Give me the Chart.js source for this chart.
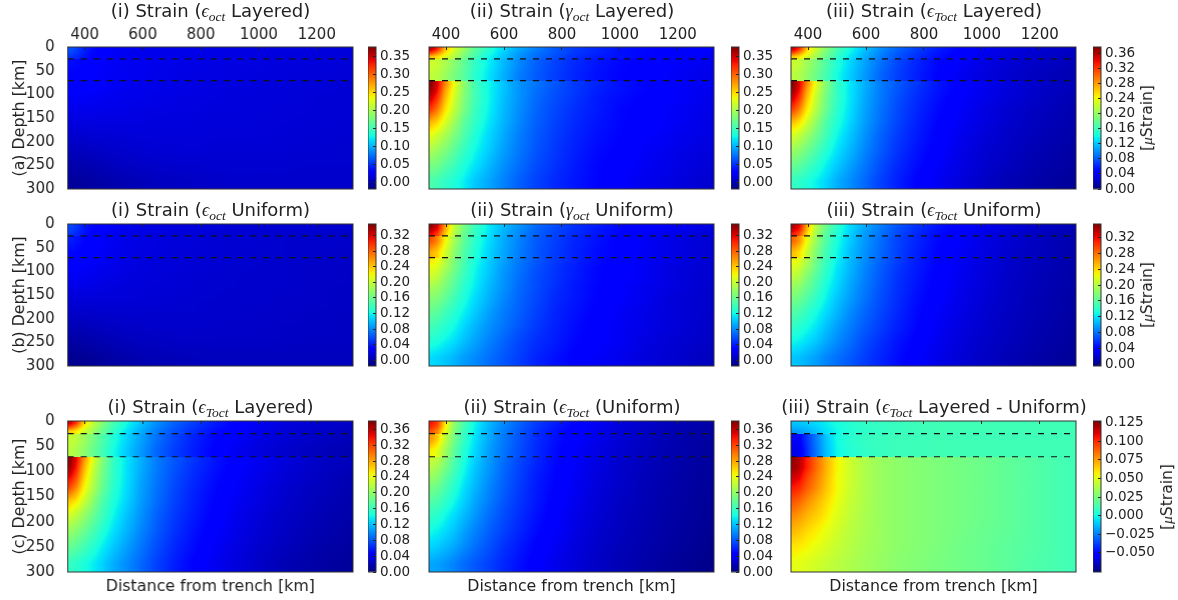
<!DOCTYPE html>
<html>
<head>
<meta charset="utf-8">
<script src="https://cdn.jsdelivr.net/npm/chart.js@4"></script>
<style>
  body { margin: 0; background: #fff; width: 1178px; height: 600px; overflow: hidden; position: relative; }
  canvas { position: absolute; }
  .ttl { position: absolute; transform: translate(-50%, -50%); white-space: nowrap; font: 18px "DejaVu Sans"; color: #222; }
  .ttl i { font-family: "Liberation Serif", "DejaVu Serif"; }
  .ttl sub { font: italic 13.5px "Liberation Serif", "DejaVu Serif"; vertical-align: -4px; line-height: 0; }
  .unit { position: absolute; transform: translate(-50%, -50%) rotate(-90deg); white-space: nowrap; font: 15.5px "DejaVu Sans"; color: #222; }
  .unit i { font-family: "Liberation Serif", "DejaVu Serif"; }
</style>
</head>
<body>
<script>
// distance (km) of each column centre and depth (km) edges of each row
const distances = [350,370,395,425,460,500,545,595,650,710,775,845,920,1000,1085,1170,1250,1315];
const depthEdges = [0,8,16,25,48,71,85,100,120,145,170,200,230,265,300];
const layerDepths = [25,71];
const distanceTicks = [400,600,800,1000,1200];
const depthTicks = [0,50,100,150,200,250,300];

// strain values in units of 0.001 microstrain, rows top to bottom
const octLayered = [
[62,56,44,34,27,23,20,19,18,18,17,16,15,15,14,14,13,13],
[58,52,42,33,27,23,20,19,18,18,17,16,15,14,14,13,13,12],
[50,46,38,31,26,22,20,19,18,17,16,15,15,14,13,13,12,12],
[34,33,30,27,24,22,20,19,18,17,16,15,14,14,13,13,12,11],
[30,29,27,25,23,21,20,19,17,16,15,15,14,13,13,12,11,11],
[28,28,27,26,24,22,20,18,17,16,15,14,14,13,12,12,11,10],
[26,26,25,24,23,21,19,18,17,16,15,14,13,13,12,11,11,10],
[22,22,22,21,20,19,18,17,16,15,14,14,13,12,12,11,10,10],
[18,18,18,18,17,17,16,15,15,14,14,13,13,12,11,11,10,10],
[14,14,14,14,14,14,14,14,13,13,13,12,12,11,11,10,10,9],
[9,9,9,10,10,11,11,12,12,12,12,11,11,11,10,10,9,9],
[3,3,4,5,6,7,8,9,10,10,11,10,10,10,10,9,9,8],
[-3,-3,-2,-1,1,3,5,6,7,8,8,9,9,9,9,8,8,8],
[-9,-9,-8,-7,-5,-3,-1,1,3,4,5,6,7,7,7,7,7,7]];
const gammaLayered = [
[357,329,266,227,195,163,139,116,96,80,64,52,44,36,32,29,27,25],
[318,290,250,219,187,159,135,112,92,76,64,52,44,36,32,29,25,23],
[258,250,227,207,179,151,128,108,88,72,60,48,40,36,31,27,23,21],
[219,215,203,187,167,143,124,104,84,68,56,46,38,32,29,25,21,19],
[211,207,195,179,163,139,120,100,80,66,54,44,36,31,27,23,19,17],
[373,345,290,238,191,151,128,108,88,76,64,52,44,36,31,27,23,21],
[365,337,278,230,187,151,128,108,88,74,62,52,42,36,31,25,21,19],
[345,318,266,223,183,151,128,106,88,72,60,50,40,34,29,25,21,17],
[314,290,250,215,179,147,126,104,86,70,58,48,40,32,27,23,19,17],
[266,254,227,199,167,143,122,102,84,68,56,46,38,32,27,23,19,15],
[230,219,203,183,159,135,116,98,80,66,54,44,36,31,25,21,17,15],
[203,195,183,167,147,128,112,94,78,64,52,42,34,29,23,19,15,13],
[179,175,163,151,135,120,104,88,74,60,50,40,32,27,21,17,13,11],
[155,151,143,135,124,108,96,82,68,56,46,38,31,25,19,15,11,9]];
const totalLayered = [
[355,328,265,226,195,165,142,120,100,84,70,57,47,38,32,28,25,23],
[318,290,250,219,188,160,138,116,97,80,67,55,46,37,31,27,24,22],
[262,252,230,208,182,155,132,112,93,77,64,52,43,36,30,26,23,21],
[225,220,207,190,170,147,127,108,89,73,60,49,41,33,28,24,21,19],
[218,212,200,183,165,142,123,104,85,70,58,47,38,31,26,22,19,17],
[375,347,292,240,195,157,133,113,93,80,67,55,45,37,31,26,22,20],
[367,338,280,232,190,155,132,112,93,78,65,54,44,36,30,25,21,19],
[347,320,268,225,186,155,132,110,92,76,63,52,42,35,29,24,20,17],
[316,292,252,217,182,151,130,108,90,74,61,50,41,33,27,22,19,16],
[268,256,230,202,170,147,127,106,88,72,59,48,39,32,26,21,18,15],
[232,222,206,186,163,140,121,102,84,69,57,46,37,30,24,20,16,14],
[205,198,186,170,151,132,116,98,81,66,54,44,35,28,23,18,15,12],
[181,177,166,154,138,123,108,92,76,62,51,41,33,26,21,16,13,11],
[157,153,146,138,127,112,100,86,71,58,47,38,31,24,18,14,11,9]];
const octUniform = [
[56,50,40,32,26,22,19,17,16,15,14,13,12,12,11,11,10,10],
[54,48,39,31,26,22,19,17,16,15,14,13,12,11,11,10,10,9],
[50,45,37,30,25,21,19,17,16,14,13,12,12,11,10,10,9,9],
[40,37,32,28,24,21,18,17,15,14,13,12,11,11,10,9,9,8],
[32,31,28,26,23,20,18,16,15,13,12,12,11,10,10,9,8,8],
[28,27,26,24,22,19,17,15,14,13,12,11,11,10,9,9,8,8],
[26,25,24,22,20,18,16,15,14,13,12,11,10,10,9,8,8,7],
[22,22,21,20,18,17,15,14,13,12,11,11,10,9,9,8,8,7],
[18,18,18,17,16,15,14,13,12,12,11,10,10,9,9,8,7,7],
[13,13,13,13,13,13,13,12,12,11,10,10,9,9,8,8,7,7],
[9,9,9,9,10,10,10,10,10,10,10,9,9,8,8,7,7,6],
[3,3,4,5,6,7,8,8,9,9,9,8,8,8,7,7,7,6],
[-3,-3,-2,-1,1,3,4,5,6,7,7,7,7,7,7,6,6,6],
[-9,-9,-8,-7,-5,-3,-1,1,2,3,4,5,5,5,5,5,5,5]];
const gammaUniform = [
[343,324,262,204,168,138,116,98,84,69,58,47,40,32,27,22,18,16],
[332,314,255,200,164,135,115,96,82,67,56,47,38,32,25,22,18,14],
[314,295,244,197,160,135,113,95,80,65,54,45,38,31,25,20,16,14],
[284,266,226,189,157,131,111,93,78,63,53,43,36,29,23,18,14,12],
[248,237,208,178,149,127,107,91,76,62,51,42,34,29,22,18,14,11],
[226,219,197,171,146,124,105,89,74,62,51,42,34,27,22,18,14,11],
[215,208,189,168,142,120,104,87,73,60,49,40,32,27,22,16,12,11],
[204,197,178,160,138,118,102,85,71,58,49,40,32,27,22,16,12,11],
[186,182,168,153,131,115,98,84,69,58,47,38,31,25,20,16,12,9],
[171,168,157,142,126,109,95,80,67,56,45,38,31,25,20,14,11,9],
[157,153,142,131,118,104,89,76,65,54,43,36,29,23,18,14,11,9],
[142,138,131,122,109,96,84,73,62,51,42,34,27,22,18,14,11,7],
[127,124,118,111,100,89,78,67,56,47,40,32,27,22,16,12,9,7],
[109,107,102,96,87,80,71,62,53,43,36,29,23,20,14,11,7,5]];
const totalUniform = [
[340,322,260,204,168,140,118,100,85,70,58,47,39,31,25,20,16,13],
[330,312,254,200,165,137,116,98,83,68,56,46,37,30,24,19,15,12],
[312,293,243,197,161,136,114,96,81,66,54,44,37,29,23,18,14,12],
[283,265,226,190,158,132,112,94,79,64,53,43,35,28,22,17,13,11],
[248,237,209,179,150,128,108,92,77,63,51,41,33,27,21,16,13,10],
[226,219,198,172,147,125,106,90,75,62,50,41,33,26,20,16,12,10],
[215,208,190,168,143,122,105,88,73,60,49,40,32,25,20,15,12,9],
[204,197,179,160,139,119,103,86,72,58,48,39,31,25,19,15,11,9],
[187,182,168,153,132,116,99,84,70,57,47,38,30,24,18,14,11,8],
[172,168,157,143,127,110,96,81,68,56,45,37,29,23,18,13,10,8],
[157,153,143,132,119,105,90,77,65,54,43,35,28,22,17,13,10,7],
[143,139,132,123,110,97,85,73,62,51,42,33,26,21,16,12,9,6],
[128,125,119,112,101,90,79,67,57,47,39,31,25,19,15,11,8,5],
[110,108,103,97,88,80,72,62,53,44,36,29,23,18,13,9,6,4]];
const totalDifference = [
[-11,-11,-9,-7,-3,1,5,7,9,9,11,11,11,11,11,11,11,11],
[-14,-14,-12,-9,-4,0,4,7,8,9,10,11,11,11,11,11,11,11],
[-20,-19,-16,-12,-6,-1,4,6,8,9,10,11,11,11,11,11,11,11],
[-55,-52,-40,-27,-12,0,5,8,9,10,10,11,11,11,11,11,11,11],
[-58,-55,-42,-28,-13,-1,4,7,9,10,10,11,11,11,11,11,11,11],
[123,118,103,88,72,56,46,38,33,30,28,26,24,22,19,16,13,11],
[122,117,103,88,72,56,46,38,33,30,28,26,24,22,19,16,13,11],
[114,110,96,84,70,55,46,38,33,30,28,26,24,22,19,16,13,11],
[104,100,90,80,68,55,45,38,33,30,28,26,24,22,19,16,13,11],
[92,88,80,72,63,53,44,38,33,30,28,26,24,22,19,16,13,11],
[80,77,71,66,59,50,43,37,33,30,28,26,24,22,19,16,13,11],
[70,68,63,59,53,47,41,37,33,30,28,26,24,21,19,16,13,11],
[60,59,56,53,49,44,40,36,33,30,28,26,23,21,18,16,13,11],
[52,51,49,47,44,41,38,35,32,29,27,25,23,21,18,15,13,11]];

// colorbar ticks
const ticksA12 = [0,0.05,0.10,0.15,0.20,0.25,0.30,0.35];
const ticks04 = [0,0.04,0.08,0.12,0.16,0.20,0.24,0.28,0.32,0.36];
const ticksB = [0,0.04,0.08,0.12,0.16,0.20,0.24,0.28,0.32];
const ticksDiff = [-0.05,-0.025,0,0.025,0.05,0.075,0.1,0.125];

const colX = [67.5, 429, 791];
const barX = [368, 731, 1093];
const rowY = [{top: 47, h: 142, title: 11}, {top: 224, h: 142, title: 210}, {top: 421, h: 151, title: 407}];
const plotW = 284;
const xRange = [341, 1325];
const ink = '#222';
const tickFont = { family: 'DejaVu Sans', size: 15 };
const barTickFont = { family: 'DejaVu Sans', size: 13.5 };

const panels = [
  { col: 0, row: 0, z: octLayered, min: -19, max: 377, ticks: ticksA12, digits: 2, title: '(i) Strain (<i>ϵ</i><sub>oct</sub> Layered)', ylabel: '(a) Depth [km]' },
  { col: 1, row: 0, z: gammaLayered, min: -19, max: 377, ticks: ticksA12, digits: 2, title: '(ii) Strain (<i>γ</i><sub>oct</sub> Layered)' },
  { col: 2, row: 0, z: totalLayered, min: 0, max: 378, ticks: ticks04, digits: 2, title: '(iii) Strain (<i>ϵ</i><sub>Toct</sub> Layered)', unit: true },
  { col: 0, row: 1, z: octUniform, min: -15, max: 350, ticks: ticksB, digits: 2, title: '(i) Strain (<i>ϵ</i><sub>oct</sub> Uniform)', ylabel: '(b) Depth [km]' },
  { col: 1, row: 1, z: gammaUniform, min: -15, max: 350, ticks: ticksB, digits: 2, title: '(ii) Strain (<i>γ</i><sub>oct</sub> Uniform)' },
  { col: 2, row: 1, z: totalUniform, min: -4, max: 354, ticks: ticksB, digits: 2, title: '(iii) Strain (<i>ϵ</i><sub>Toct</sub> Uniform)', unit: true },
  { col: 0, row: 2, z: totalLayered, min: 0, max: 381, ticks: ticks04, digits: 2, title: '(i) Strain (<i>ϵ</i><sub>Toct</sub> Layered)', ylabel: '(c) Depth [km]' },
  { col: 1, row: 2, z: totalUniform, min: 0, max: 381, ticks: ticks04, digits: 2, title: '(ii) Strain (<i>ϵ</i><sub>Toct</sub> (Uniform)' },
  { col: 2, row: 2, z: totalDifference, min: -75.5, max: 127, ticks: ticksDiff, digits: 3, title: '(iii) Strain (<i>ϵ</i><sub>Toct</sub> Layered - Uniform)', unit: true }
];

// matplotlib jet
function ramp(t, pts) {
  for (let i = 1; i < pts.length; i++) {
    if (t <= pts[i][0]) {
      const f = (t - pts[i-1][0]) / (pts[i][0] - pts[i-1][0]);
      return pts[i-1][1] + f * (pts[i][1] - pts[i-1][1]);
    }
  }
  return pts[pts.length-1][1];
}
function jetRgb(t) {
  t = Math.max(0, Math.min(1, t));
  return [
    ramp(t, [[0,0],[0.35,0],[0.66,1],[0.89,1],[1,0.5]]) * 255,
    ramp(t, [[0,0],[0.125,0],[0.375,1],[0.64,1],[0.91,0],[1,0]]) * 255,
    ramp(t, [[0,0.5],[0.11,1],[0.34,1],[0.65,0],[1,0]]) * 255
  ];
}
function jet(t) {
  const c = jetRgb(t);
  return `rgb(${Math.round(c[0])},${Math.round(c[1])},${Math.round(c[2])})`;
}

function makeCanvas(left, top, w, h) {
  const c = document.createElement('canvas');
  c.width = w; c.height = h;
  c.style.left = left + 'px'; c.style.top = top + 'px';
  c.style.width = w + 'px'; c.style.height = h + 'px';
  document.body.appendChild(c);
  return c.getContext('2d');
}

function addText(cls, html, x, y) {
  const d = document.createElement('div');
  d.className = cls;
  d.innerHTML = html;
  d.style.left = x + 'px'; d.style.top = y + 'px';
  document.body.appendChild(d);
}

const framePlugin = {
  id: 'frame',
  // same shading under the bars so their soft edges leave no seams
  beforeDatasetsDraw(chart) {
    if (!chart.$shade) return;
    const a = chart.chartArea, c = chart.ctx;
    c.save();
    c.fillStyle = chart.$shade;
    c.fillRect(a.left, a.top, a.right - a.left, a.bottom - a.top);
    c.restore();
  },
  afterDraw(chart) {
    const a = chart.chartArea, c = chart.ctx;
    c.save();
    c.strokeStyle = '#333';
    c.lineWidth = 1;
    c.strokeRect(a.left, a.top, a.right - a.left, a.bottom - a.top);
    c.restore();
  }
};

// position of v between the entries of a sorted list: [lower index, upper index, fraction]
function bracket(list, v) {
  if (v <= list[0]) return [0, 0, 0];
  for (let i = 1; i < list.length; i++) {
    if (v <= list[i]) return [i-1, i, (v - list[i-1]) / (list[i] - list[i-1])];
  }
  return [list.length-1, list.length-1, 0];
}

// smooth shading for the bars, like imshow: blends between cells, never across a layer boundary
function shading(chart, p) {
  if (chart.$shade) return chart.$shade;
  const sx = chart.scales.x, sy = chart.scales.y, a = chart.chartArea;
  const w = chart.width, h = chart.height;
  const off = document.createElement('canvas');
  off.width = w; off.height = h;
  const octx = off.getContext('2d');
  const img = octx.createImageData(w, h);
  const mids = depthEdges.slice(0, -1).map((e, r) => (e + depthEdges[r+1]) / 2);
  const bounds = [0, ...layerDepths, 300];
  const xStart = Math.floor(a.left) - 1, xEnd = Math.ceil(a.right) + 1;
  for (let py = Math.floor(a.top) - 1; py <= Math.ceil(a.bottom) + 1; py++) {
    if (py < 0 || py >= h) continue;
    const depth = sy.getValueForPixel(py + 0.5);
    const lay = Math.max(0, Math.min(bounds.length - 2, bounds.findIndex(b => b > depth) - 1));
    const rows = mids.map((m, r) => r).filter(r => mids[r] > bounds[lay] && mids[r] < bounds[lay+1]);
    const br = bracket(rows.map(r => mids[r]), depth);
    const r0 = p.z[rows[br[0]]], r1 = p.z[rows[br[1]]];
    for (let px = xStart; px <= xEnd; px++) {
      if (px < 0 || px >= w) continue;
      const bc = bracket(distances, sx.getValueForPixel(px + 0.5));
      const top = r0[bc[0]] + bc[2] * (r0[bc[1]] - r0[bc[0]]);
      const bot = r1[bc[0]] + bc[2] * (r1[bc[1]] - r1[bc[0]]);
      const c = jetRgb((top + br[2] * (bot - top) - p.min) / (p.max - p.min));
      const k = (py * w + px) * 4;
      img.data[k] = c[0]; img.data[k+1] = c[1]; img.data[k+2] = c[2]; img.data[k+3] = 255;
    }
  }
  octx.putImageData(img, 0, 0);
  chart.$shade = chart.ctx.createPattern(off, 'no-repeat');
  return chart.$shade;
}

function cellFill(p, rowVals) {
  return ctx => {
    const sx = ctx.chart.scales.x;
    if (!sx || ctx.dataIndex === undefined || !Number.isFinite(sx.getPixelForValue(distances[0]))) {
      return jet((rowVals[0] - p.min) / (p.max - p.min));
    }
    return shading(ctx.chart, p);
  };
}

function drawPanel(p) {
  const R = rowY[p.row], x0 = colX[p.col];
  const topH = p.row === 0 ? 24 : 12;
  const botH = p.row === 2 ? 28 : 10;
  const leftW = p.col === 0 ? x0 : 2;
  const ctx = makeCanvas(x0 - leftW, R.top - topH, leftW + plotW + 3, topH + R.h + botH);

  const datasets = p.z.map((rowVals, r) => ({
    type: 'bar',
    order: 2,
    data: distances.map(d => ({ x: d, y: [depthEdges[r], depthEdges[r+1]] })),
    backgroundColor: cellFill(p, rowVals),
    borderWidth: 0,
    barThickness: 'flex',
    barPercentage: 1,
    categoryPercentage: 1
  }));
  layerDepths.forEach(depth => datasets.push({
    type: 'line',
    order: 1,
    data: [{ x: xRange[0], y: depth }, { x: xRange[1], y: depth }],
    borderColor: '#111',
    borderWidth: 1.2,
    borderDash: [6, 7],
    pointRadius: 0
  }));

  const scales = {
    x: {
      type: 'linear', position: 'top', min: xRange[0], max: xRange[1], offset: false, stacked: true,
      grid: { drawOnChartArea: false, offset: false, tickLength: -3, color: '#222', z: 1 },
      border: { display: false },
      afterBuildTicks: s => { s.ticks = distanceTicks.map(v => ({ value: v })); },
      afterFit: s => { s.height = topH; s.paddingLeft = 0; s.paddingRight = 0; },
      ticks: { display: p.row === 0, color: ink, font: tickFont, padding: 6, maxRotation: 0, autoSkip: false, callback: v => String(v) }
    },
    y: {
      type: 'linear', position: 'left', reverse: true, min: 0, max: 300, stacked: false,
      grid: { display: false },
      border: { display: false },
      afterBuildTicks: s => { s.ticks = depthTicks.map(v => ({ value: v })); },
      afterFit: s => { s.width = leftW; s.paddingTop = 0; s.paddingBottom = 0; },
      ticks: { display: p.col === 0, color: ink, font: tickFont, padding: 5, autoSkip: false },
      title: { display: !!p.ylabel, text: p.ylabel, color: ink, font: { family: 'DejaVu Sans', size: 15.8 }, padding: { top: 10, bottom: 0 } }
    }
  };
  if (p.row === 2) {
    scales.xb = {
      type: 'linear', position: 'bottom', min: xRange[0], max: xRange[1],
      grid: { display: false }, border: { display: false },
      ticks: { display: false },
      afterFit: s => { s.height = botH; },
      title: { display: true, text: 'Distance from trench [km]', color: ink, font: { family: 'DejaVu Sans', size: 15.8 }, padding: { top: 0, bottom: 4 } }
    };
  }

  new Chart(ctx, {
    type: 'bar',
    data: { datasets },
    options: {
      responsive: false,
      animation: false,
      layout: { padding: { right: 2, bottom: p.row === 2 ? 0 : botH } },
      plugins: { legend: { display: false }, tooltip: { enabled: false }, title: { display: false } },
      scales
    },
    plugins: [framePlugin]
  });

  addText('ttl', p.title, x0 + plotW / 2 + 1, R.title);
}

function drawColorbar(p) {
  const R = rowY[p.row], x0 = barX[p.col];
  const barW = 8;
  const axisW = 62, pad = 10;
  const ctx = makeCanvas(x0, R.top - pad, barW + axisW, R.h + pad * 2);
  const lo = p.min / 1000, hi = p.max / 1000;

  const fill = c => {
    const s = c.chart.scales.y;
    if (!s || !Number.isFinite(s.getPixelForValue(lo))) return '#00f';
    const g = c.chart.ctx.createLinearGradient(0, s.getPixelForValue(lo), 0, s.getPixelForValue(hi));
    for (let i = 0; i <= 40; i++) g.addColorStop(i / 40, jet(i / 40));
    return g;
  };

  new Chart(ctx, {
    type: 'bar',
    data: { labels: [''], datasets: [{ data: [[lo, hi]], backgroundColor: fill, borderWidth: 0, barPercentage: 1, categoryPercentage: 1 }] },
    options: {
      responsive: false,
      animation: false,
      layout: { padding: { top: pad, bottom: pad } },
      plugins: { legend: { display: false }, tooltip: { enabled: false } },
      scales: {
        x: { display: false },
        y: {
          position: 'right', min: lo, max: hi,
          grid: { drawOnChartArea: false, tickLength: -3, color: '#222', z: 1 },
          border: { display: false },
          afterBuildTicks: s => { s.ticks = p.ticks.map(v => ({ value: v })); },
          afterFit: s => { s.width = axisW; s.paddingTop = 0; s.paddingBottom = 0; },
          ticks: {
            color: ink, font: barTickFont, padding: 7, autoSkip: false,
            callback: v => v.toFixed(p.digits).replace('-', '\u2212')
          }
        }
      }
    },
    plugins: [framePlugin]
  });

  if (p.unit) addText('unit', '[<i>μ</i>Strain]', p.row === 2 ? 1167 : 1147, R.top + R.h / 2);
}

panels.forEach(p => { drawPanel(p); drawColorbar(p); });
</script>
</body>
</html>
